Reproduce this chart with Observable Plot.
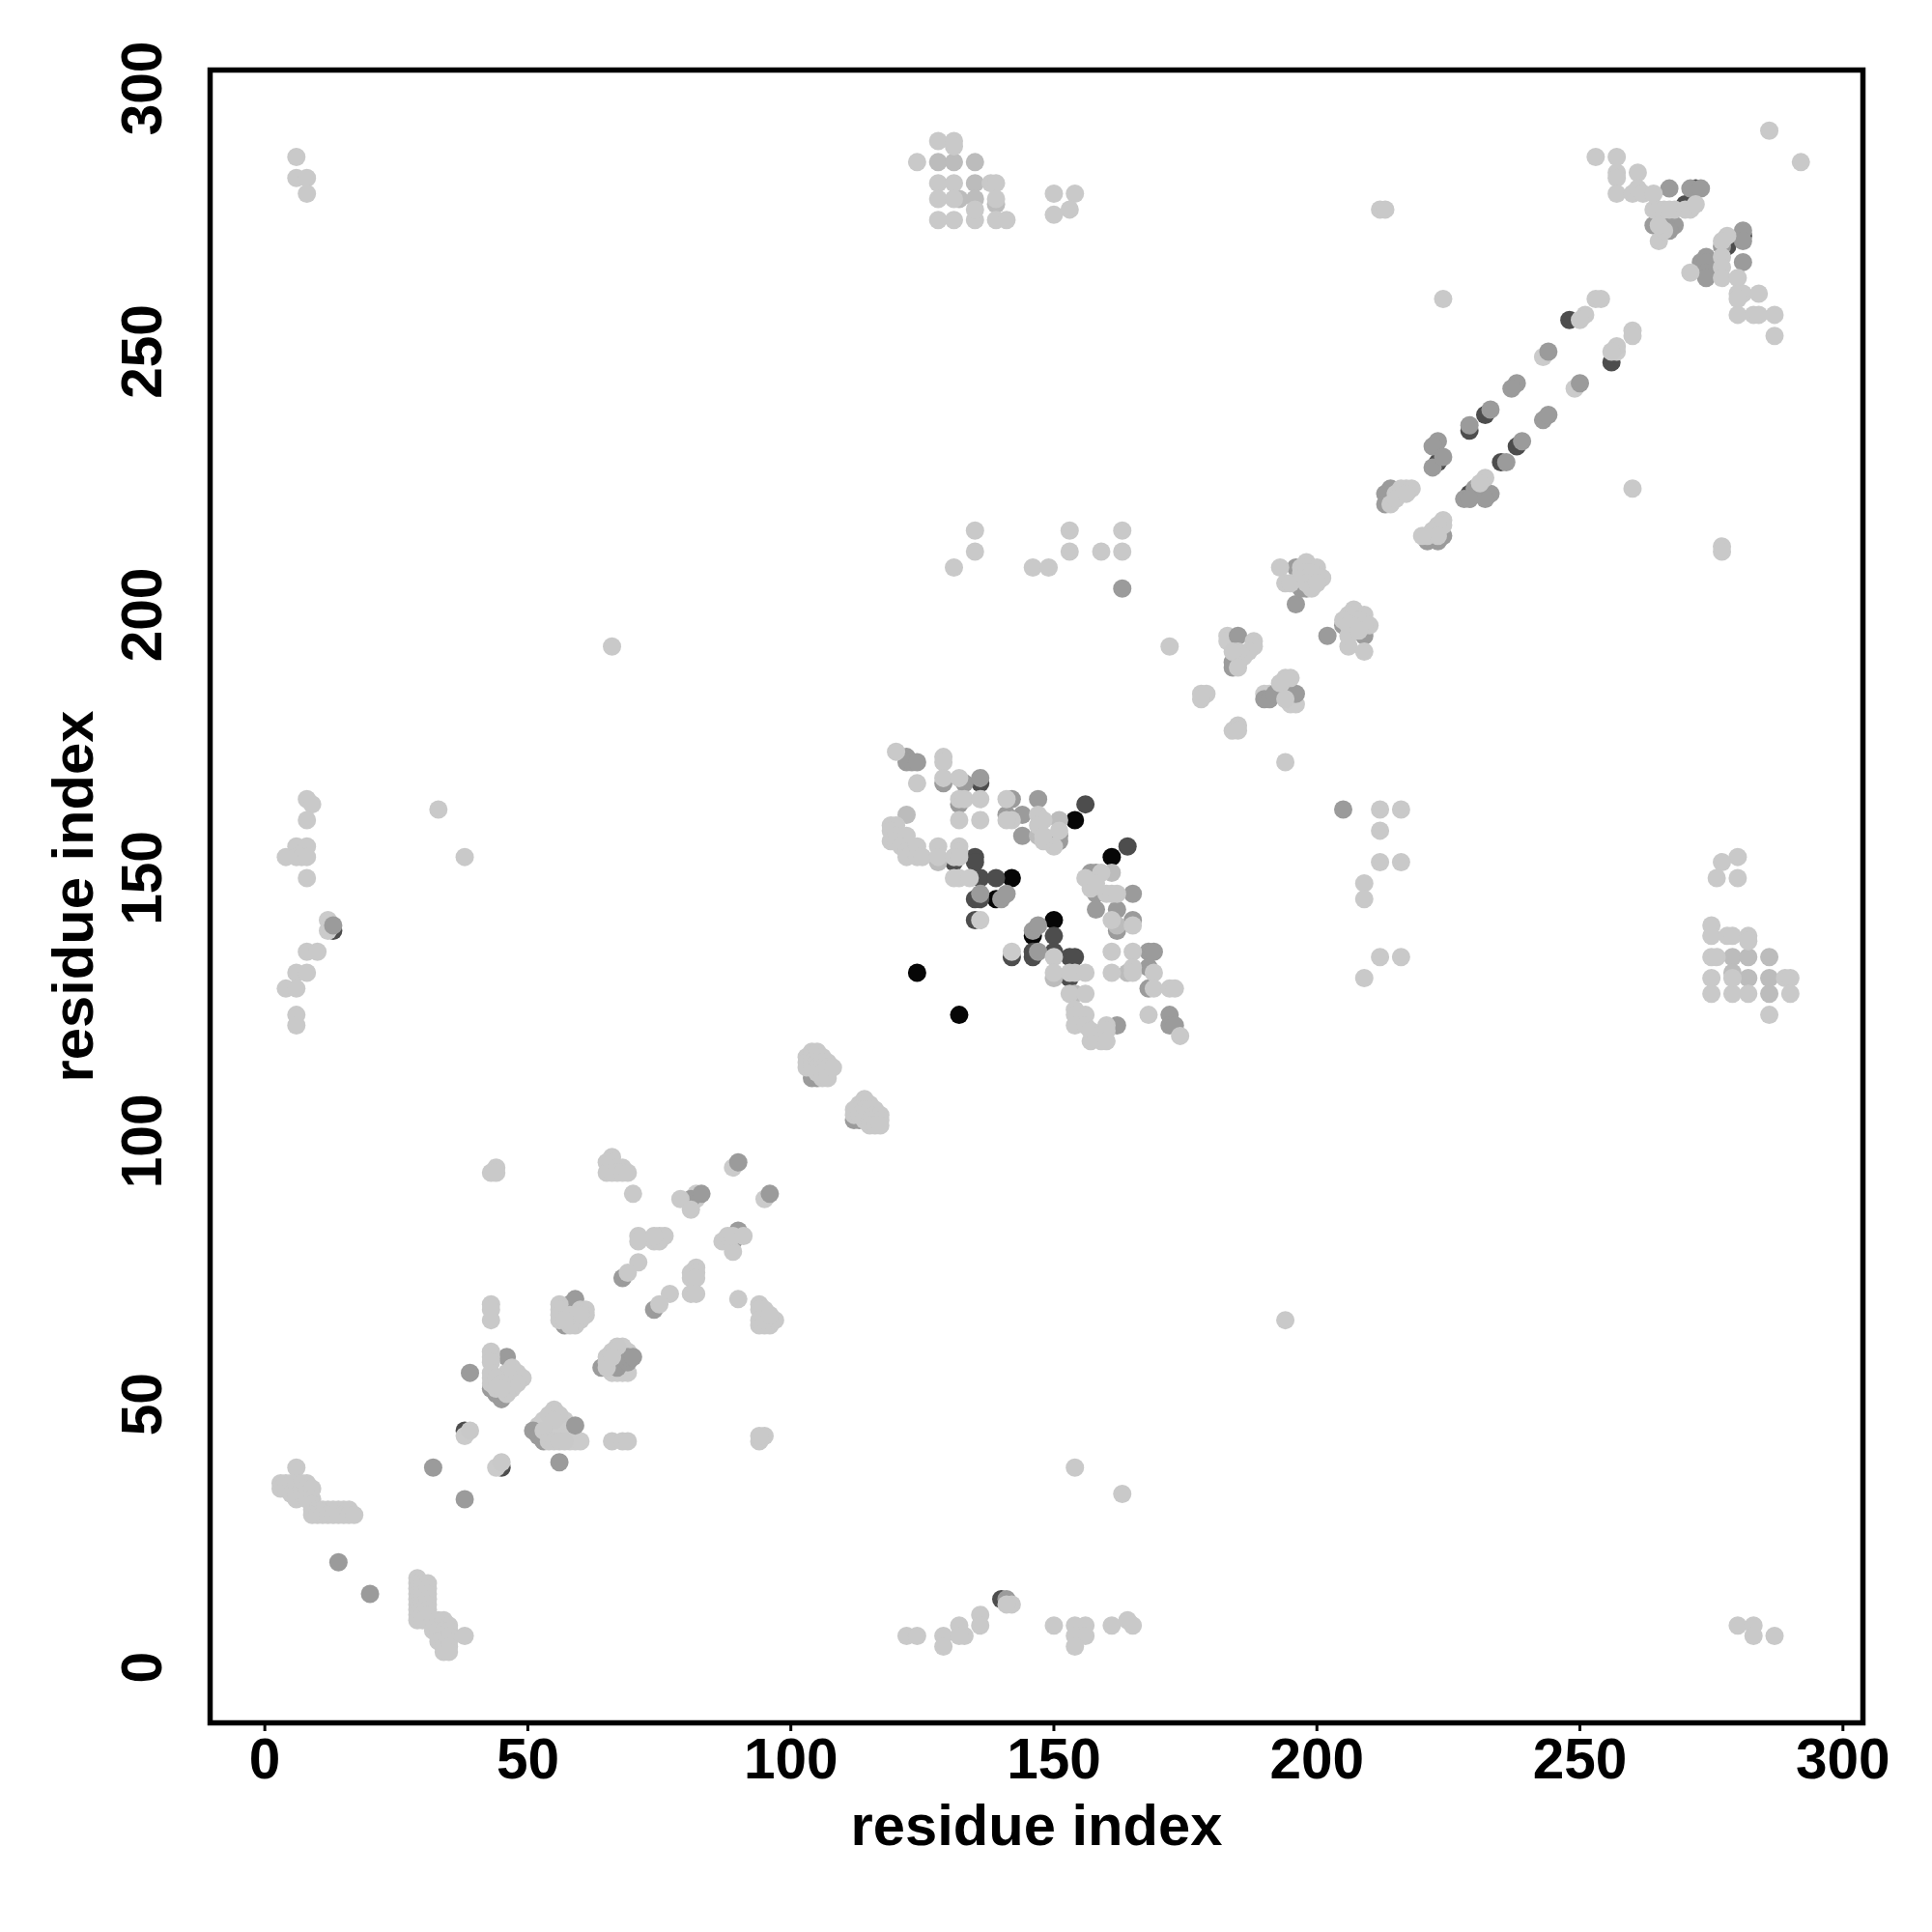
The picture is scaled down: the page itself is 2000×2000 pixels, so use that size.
<!DOCTYPE html>
<html><head><meta charset="utf-8">
<script src="https://cdn.jsdelivr.net/npm/d3@7"></script>
<script src="https://cdn.jsdelivr.net/npm/@observablehq/plot@0.6"></script>
<style>html,body{margin:0;padding:0;background:#fff}</style>
</head><body><div id="chart"></div>
<script>
const xLabel = "residue index";
const yLabel = "residue index";
const tickValues = [0,50,100,150,200,250,300];

const black = [[124,132],[132,124],[154,161],[161,154],[142,150],[150,142],[139,146],[146,139]];
const dark = [[156,164],[164,156],[136,150],[139,150],[135,146],[136,146],[135,142],[150,139],[150,136],[153,135],[154,135],[146,135],[146,136],[142,135],[153,131],[131,153],[135,154],[135,153],[136,168],
 [13,140],[38,45],[45,38],[248,256],[232,238],[229,235],[223,229],[229,223],[235,229],[238,232],[256,248],[270,278],[272,281],[278,270],[281,272],[140,13]];
const lightBelow = [[89,95],[95,89],[81,88],[82,90],[82,89],[243,249],[249,243],[257,250],[52,46],[53,47],[54,46],[55,45],[57,45],[57,47],[58,43],[59,43],[60,43],[66,56],[67,56],[68,56],[69,56],[66,58],[67,59],[69,60],[68,61],[183,196],[183,195],[190,185],[191,185],[193,185],[194,185],[194,187],[195,183],[196,183],[12,142],[12,140],[38,44],[44,38],[132,150],[131,150],[134,150],[136,142],[142,136]];
const semi = [[128,286],[131,286],[135,286],[135,282],[135,279],[139,278],[132,279],[279,135],[279,132],[282,135],[286,135],[286,131],[286,128],[282,131],[161,151],[147,158],[151,161],[122,162],[128,153],[150,131],[154,128],[162,141],[164,132]];
const mid = [[14,20],[20,14],[32,38],[38,32],[56,39],[59,46],[39,56],[46,59],[43,53],[44,52],[45,51],[51,45],[52,44],[53,43],[57,68],[58,69],[58,68],[59,69],[59,70],[57,65],[64,57],[67,57],[69,58],[69,59],[70,59],[68,74],[74,68],[81,89],[83,90],[90,96],[96,90],[89,81],[90,83],[90,82],
 [104,113],[104,112],[105,112],[112,104],[113,104],[13,141],
 [122,173],[122,172],[123,172],[124,172],[129,168],[133,168],[136,169],[132,164],[141,162],[142,165],[147,165],[144,162],[144,158],[151,158],[151,157],[157,151],[158,151],[158,147],[165,147],[158,144],[162,144],[162,140],[165,142],[136,147],[140,146],[141,147],[146,140],[147,141],[147,136],[168,136],[169,136],[168,133],[168,129],[172,124],[172,122],[173,122],[162,122],
 [163,205],[205,163],[196,202],[202,196],[196,209],[197,205],[198,205],[205,198],[207,197],[209,196],[185,196],[184,190],[184,191],[185,191],[190,184],[191,184],[192,185],[196,185],
 [244,250],[238,244],[237,243],[233,239],[229,236],[223,233],[222,232],[222,228],[224,230],[214,224],[213,223],[213,221],[233,223],[232,222],[230,224],[228,222],[229,222],[221,214],[223,214],[224,215],[236,229],[239,233],[243,237],[244,238],[250,244],
 [267,281],[271,281],[273,281],[264,274],[267,274],[268,274],[267,273],[281,273],[281,271],[277,270],[281,267],[274,268],[273,267],[274,267],[274,265],[274,264],[141,13]];
const light = [[6,287],[6,283],[8,283],[8,280],[8,165],[9,164],[8,161],[6,156],[8,156],[4,154],[6,154],[7,154],[8,154],[8,150],[33,163],[38,154],[66,194],[8,136],[10,136],[6,132],[8,132],[4,129],[6,129],[6,124],[6,122],
 [124,286],[128,290],[131,290],[131,289],[128,282],[131,282],[138,282],[139,282],[128,279],[131,279],[139,279],[128,275],[131,275],[135,275],[135,277],[139,275],[141,275],[150,280],[154,280],[153,277],[150,276],
 [212,277],[213,277],[135,216],[135,212],[153,216],[153,212],[159,212],[163,216],[163,212],[146,209],[149,209],[131,209],[172,194],[212,163],[216,163],[212,159],[212,153],[216,153],[209,149],[209,146],[209,131],[212,135],[216,135],[277,213],[277,212],[260,224],[224,260],[194,172],[194,66],[154,38],[163,33],
 [286,292],[292,286],[253,287],[257,287],[257,284],[257,283],[257,280],[261,284],[260,280],[261,281],[262,280],[264,280],[264,277],[265,277],[266,277],[267,277],[268,277],[270,277],[271,277],[272,278],[265,271],[266,273],[265,274],
 [278,272],[277,271],[271,265],[277,268],[277,266],[277,264],[280,264],[280,261],[281,261],[284,261],[280,260],[280,257],[283,257],[284,257],[287,257],[287,253],
 [253,260],[254,260],[251,257],[250,256],[260,254],[260,253],[257,251],[256,250],
 [216,224],[217,224],[218,224],[215,223],[214,221],[215,222],[217,223],[232,226],[231,225],[224,218],[224,217],[223,217],[222,216],[221,215],[223,215],[220,215],
 [193,209],[194,206],[195,206],[198,210],[197,209],[200,209],[201,207],[197,208],[198,208],[199,208],[198,206],[199,205],[200,206],
 [207,201],[209,200],[206,200],[205,199],[210,198],[208,199],[207,198],[209,198],[206,198],[206,194],[209,193],[206,196],[208,197],
 [188,195],[188,194],[187,193],[186,192],[185,193],[184,193],[185,190],[178,185],[179,185],[178,184],[185,179],[184,178],[185,178],[194,188],[195,188],[193,187],[194,184],
 [280,154],[277,153],[276,150],[280,150],[275,141],[275,139],[278,139],[279,139],[282,139],[282,138],[275,135],[276,135],[275,131],[289,131],[290,131],[275,128],[279,128],[282,128],[290,128],[286,124],[279,131],
 [280,8],[283,8],[283,6],[287,6],[150,8],[154,8],[156,8],[154,6],[156,6],[154,4],[161,8],[164,9],[165,8],[136,10],[136,8],[133,6],[142,12],[141,12],[122,6],[124,6],[129,6],[129,4],[132,8],[132,6],
 [6,38],[3,35],[3,34],[4,35],[4,34],[5,35],[5,33],[6,35],[6,33],[6,32],[7,35],[7,34],[7,33],[8,35],[8,34],[8,33],[8,32],[9,34],[9,32],[9,31],[9,30],[10,30],[11,30],[12,30],[13,30],[14,30],[15,30],[16,30],[9,29],[10,29],[11,29],[12,29],[13,29],[14,29],[15,29],[16,29],[17,29],
 [29,17],[29,16],[29,15],[29,14],[29,13],[29,12],[29,11],[29,10],[29,9],[30,16],[30,15],[30,14],[30,13],[30,12],[30,11],[30,10],[30,9],[31,16],[31,15],[31,14],[31,13],[31,12],[31,11],[31,10],[32,9],[33,9],[34,9],[35,8],[32,7],[33,7],[34,7],[35,7],[33,6],[35,6],[33,5],[34,5],[35,5],[34,4],[35,4],[34,3],[35,3],[38,6],
 [45,39],[39,45],[44,95],[43,94],[44,94],[66,97],[65,96],[65,94],[66,96],[66,94],[67,95],[68,95],[67,94],[68,94],[69,94],[70,90],[79,89],[81,87],
 [71,82],[71,81],[74,81],[75,82],[75,81],[76,82],[74,82],[71,77],[69,75],[77,71],[75,69],[82,76],[81,75],[82,75],[81,74],[82,74],[81,71],[82,71],[90,70],[89,79],[87,81],[88,82],[89,82],[91,82],
 [94,69],[95,68],[94,68],[94,65],[95,65],[96,65],[97,66],[94,66],[95,66],[96,67],[43,69],[43,68],[43,66],
 [56,69],[56,68],[56,67],[56,66],[61,68],[61,67],[60,68],[60,66],[59,65],[58,65],[59,67],[58,67],[60,67],[57,66],
 [67,61],[66,60],[65,59],[65,58],[65,57],[66,59],
 [43,60],[43,59],[43,58],[43,56],[43,55],[43,54],[47,57],[46,56],[48,56],[49,55],[48,54],[47,53],[46,52],[44,55],[45,54],[44,53],[45,53],
 [55,49],[54,48],[56,48],[55,47],[53,45],[54,43],[55,43],[56,43],[57,43],[66,43],[68,43],[69,43],[94,43],[95,44],[94,44],
 [103,116],[103,115],[103,114],[104,117],[104,116],[104,115],[104,114],[105,117],[105,116],[105,115],[105,114],[105,113],[106,116],[106,115],[106,114],[106,113],[106,112],[107,115],[107,114],[107,113],[107,112],[108,114],
 [114,108],[113,107],[114,107],[115,107],[112,106],[113,106],[114,106],[115,106],[116,106],[112,105],[113,105],[114,105],[115,105],[116,105],[117,105],[114,104],[115,104],[116,104],[117,104],[115,103],[116,103],[117,103],
 [120,174],[124,168],[129,173],[129,172],[129,169],[132,169],[132,165],[133,165],[136,165],[132,161],[136,161],
 [119,160],[120,160],[119,159],[119,157],[120,158],[120,157],[122,158],[121,156],[122,155],[122,154],[123,155],[124,156],[124,154],[125,154],[128,156],[128,154],[132,156],[132,155],[131,154],[132,154],
 [141,165],[142,161],[141,161],[147,162],[148,161],[147,160],[151,159],[150,156],[148,157],[148,158],
 [156,150],[159,151],[157,148],[158,149],[160,147],[161,147],[162,147],[161,142],[165,141],
 [150,135],[150,132],[153,132],[154,132],[156,132],[153,128],[156,128],[154,125],[154,124],[156,124],[154,122],[156,122],[157,121],[157,119],[158,120],[159,119],[160,122],[160,121],[160,119],
 [161,136],[165,136],[161,132],[165,133],[165,132],[169,132],[169,129],[172,129],[173,129],[168,124],[174,120]];

const layer = (points, fill) => Plot.dot(points, {x: d => d[0], y: d => d[1], r: 9.5, fill});
const tickOpts = {fontSize: 58.5, fontWeight: "bold", tickSize: 9, strokeWidth: 3, label: null};

const chart = Plot.plot({
  width: 2000, height: 2000,
  marginLeft: 217, marginRight: 72, marginTop: 72, marginBottom: 217,
  style: {fontFamily: "'Liberation Sans', Arial, sans-serif", background: "#fff", color: "#000"},
  x: {domain: [-10.4, 303.8], label: null},
  y: {domain: [-10.5, 303.5], label: null},
  marks: [
    layer(black, "#060606"),
    layer(dark, "#4d4d4d"),
    layer(lightBelow, "#cbcbcb"),
    layer(mid, "#9b9b9b"),
    layer(semi, "#bcbcbc"),
    layer(light, "#c9c9c9"),
    Plot.axisX(tickValues, {...tickOpts, anchor: "bottom", tickPadding: 7, tickFormat: d => d}),
    Plot.axisY(tickValues, {...tickOpts, anchor: "left", tickPadding: 60, rotate: -90, textAnchor: "middle", tickFormat: d => d}),
    Plot.axisX({ticks: [], anchor: "bottom", label: xLabel, labelAnchor: "center", labelArrow: "none", labelOffset: 126, fontSize: 59.7, fontWeight: "bold", tickSize: 0}),
    Plot.axisY({ticks: [], anchor: "left", label: yLabel, labelAnchor: "center", labelArrow: "none", labelOffset: 164, fontSize: 59.7, fontWeight: "bold", tickSize: 0}),
    Plot.frame({stroke: "#000", strokeWidth: 5.5})
  ]
});
document.getElementById("chart").appendChild(chart);
</script></body></html>
